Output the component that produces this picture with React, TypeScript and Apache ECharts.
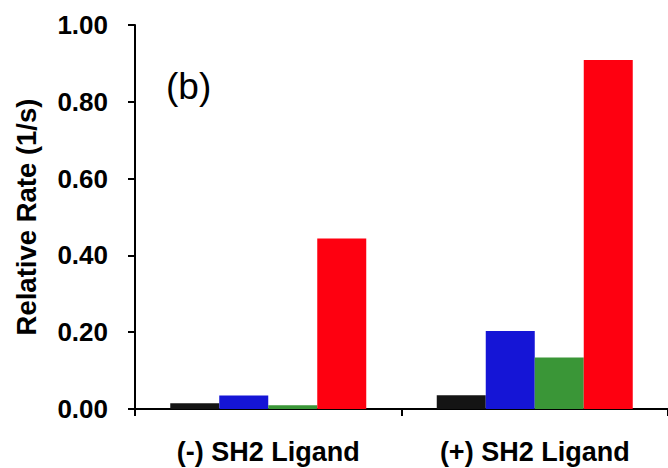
import React, { useEffect, useRef } from "react";
import * as echarts from "echarts";

const categories = ["(-) SH2 Ligand", "(+) SH2 Ligand"];
const seriesBlack = [0.015, 0.036];
const seriesBlue = [0.035, 0.203];
const seriesGreen = [0.01, 0.134];
const seriesRed = [0.444, 0.909];
const seriesColors = ["#141414", "#1515d6", "#3a9637", "#fe0010"];
const panelLabel = "(b)";
const yTitle = "Relative Rate (1/s)";

const FONT = "'Liberation Sans', Arial, sans-serif";

export default function App() {
  const ref = useRef<HTMLDivElement>(null);
  useEffect(() => {
    if (!ref.current) return;
    const chart = echarts.init(ref.current, null, { renderer: "svg" });
    const all = [seriesBlack, seriesBlue, seriesGreen, seriesRed];
    chart.setOption({
      animation: false,
      backgroundColor: "#ffffff",
      textStyle: { fontFamily: FONT },
      grid: { left: 135, top: 25, bottom: 59, right: -11, containLabel: false },
      graphic: [
        {
          type: "text",
          x: 166,
          y: 86,
          style: {
            text: panelLabel,
            font: `37px ${FONT}`,
            fill: "#000",
            verticalAlign: "middle",
            align: "left",
          },
        },
      ],
      xAxis: {
        type: "category",
        data: categories,
        axisLine: { lineStyle: { color: "#000", width: 2 } },
        axisTick: { show: true, length: 7, lineStyle: { color: "#000", width: 2 } },
        axisLabel: {
          color: "#000",
          fontSize: 27,
          fontWeight: "bold",
          fontFamily: FONT,
          margin: 29,
        },
        splitLine: { show: false },
      },
      yAxis: {
        type: "value",
        min: 0,
        max: 1,
        interval: 0.2,
        name: yTitle,
        nameLocation: "middle",
        nameGap: 95,
        nameRotate: 90,
        nameTextStyle: { color: "#000", fontSize: 27.5, fontWeight: "bold", fontFamily: FONT },
        axisLine: { show: true, lineStyle: { color: "#000", width: 2 } },
        axisTick: { show: true, length: 7, lineStyle: { color: "#000", width: 2 } },
        axisLabel: {
          color: "#000",
          fontSize: 26,
          fontWeight: "bold",
          fontFamily: FONT,
          margin: 27,
          formatter: (v: number) => v.toFixed(2),
        },
        splitLine: { show: false },
      },
      series: all.map((d, i) => ({
        type: "bar",
        data: d,
        barWidth: 49,
        barGap: "0%",
        itemStyle: { color: seriesColors[i] },
      })),
    });
    return () => chart.dispose();
  }, []);
  return (
    <div
      ref={ref}
      style={{ position: "absolute", left: 0, top: 0, width: 668, height: 468 }}
    />
  );
}
